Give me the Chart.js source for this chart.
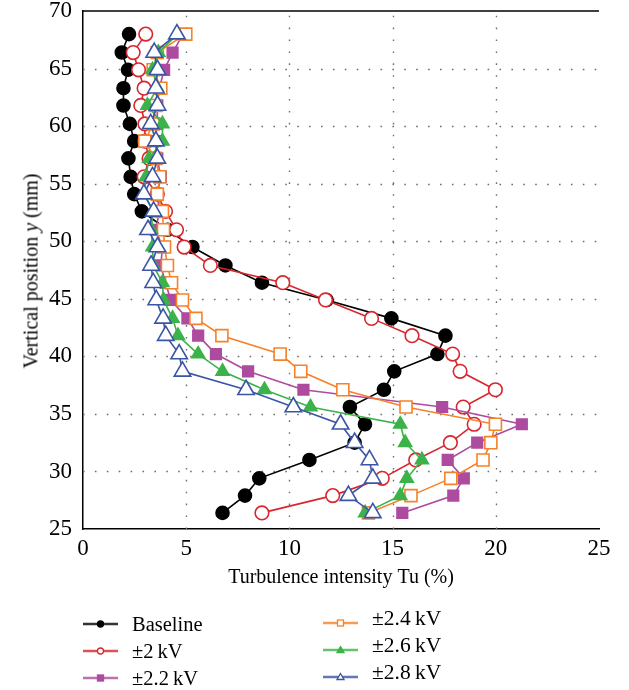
<!DOCTYPE html>
<html>
<head>
<meta charset="utf-8">
<script src="https://cdn.jsdelivr.net/npm/chart.js@4/dist/chart.umd.min.js"></script>
<style>
  html, body { margin: 0; padding: 0; background: #fff; }
  #wrap { position: relative; width: 629px; height: 690px; }
  #c { position: absolute; left: 0; top: 0; }
  .ytitle { position: absolute; left: 31px; top: 271px; transform: translate(-50%, -50%) rotate(-90deg);
            font-family: "Liberation Serif", serif; font-size: 20px; white-space: nowrap; color: #000; }
  .leg { position: absolute; font-family: "Liberation Serif", serif; font-size: 20.5px; color: #000; white-space: nowrap; }
  .leg svg { position: absolute; left: 0; top: 0; overflow: visible; }
  .leg span { position: absolute; white-space: nowrap; }
</style>
</head>
<body>
<div id="wrap">
  <canvas id="c" width="629" height="690"></canvas>
  <div class="ytitle">Vertical position <i>y</i> (mm)</div>
  <div id="legend"></div>
</div>
<script>
// ---- data ----
const yPositions = [68.0, 66.4, 64.9, 63.3, 61.8, 60.2, 58.7, 57.2, 55.6, 54.1, 52.6, 51.0, 49.5, 47.9,
                    46.4, 44.9, 43.3, 41.8, 40.2, 38.7, 37.1, 35.6, 34.1, 32.5, 31.0, 29.4, 27.9, 26.4];
const seriesNames = ["Baseline", "±2 kV", "±2.2 kV", "±2.4 kV", "±2.6 kV", "±2.8 kV"];
const baseline = [2.23, 1.88, 2.18, 1.96, 1.96, 2.27, 2.48, 2.20, 2.31, 2.48, 2.85, 4.10, 5.30, 6.90,
                  8.67, 11.80, 14.94, 17.56, 17.17, 15.08, 14.58, 12.93, 13.66, 13.16, 10.97, 8.54, 7.85, 6.76];
const kv20 = [3.04, 2.43, 2.69, 2.96, 2.80, 3.00, 3.00, 3.20, 2.96, 3.60, 4.00, 4.53, 4.90, 6.17,
              9.68, 11.75, 13.98, 15.94, 17.91, 18.27, 19.98, 18.42, 18.95, 17.80, 16.12, 14.50, 12.10, 8.67];
const kv22 = [4.85, 4.34, 3.93, 3.70, 3.60, 3.60, 3.50, 3.60, 3.77, 3.60, 3.70, 3.53, 3.85, 3.77,
              4.00, 4.25, 5.06, 5.58, 6.44, 8.00, 10.68, 17.40, 21.26, 19.10, 17.67, 18.45, 17.94, 15.47];
const kv24 = [4.98, 3.60, 3.40, 3.77, 3.50, 3.40, 2.99, 3.50, 3.72, 3.60, 3.85, 3.90, 3.95, 4.09,
              4.29, 4.82, 5.47, 6.73, 9.55, 10.55, 12.59, 15.65, 19.98, 19.76, 19.38, 17.82, 15.89, 13.83];
const kv26 = [4.60, 3.65, 3.37, 3.60, 3.12, 3.85, 3.85, 3.20, 3.05, 2.96, 3.40, 3.30, 3.37, 3.40,
              3.85, 3.90, 4.34, 4.60, 5.58, 6.76, 8.79, 11.02, 15.37, 15.61, 16.42, 15.69, 15.37, 13.67];
const kv28 = [4.55, 3.45, 3.61, 3.53, 3.61, 3.28, 3.53, 3.60, 3.37, 2.95, 3.42, 3.15, 3.61, 3.30,
              3.40, 3.55, 3.88, 4.01, 4.66, 4.82, 7.90, 10.19, 12.48, 13.16, 13.88, 14.04, 12.86, 14.04];
const xTicks = [0, 5, 10, 15, 20, 25];
const yTicks = [25, 30, 35, 40, 45, 50, 55, 60, 65, 70];

// ---- styles ----
const styles = [
  {color: '#000000', fill: '#000000', style: 'circle',   r: 6.5, order: 6},
  {color: '#d8262e', fill: '#ffffff', style: 'circle',   r: 6.8, order: 5},
  {color: '#ad4b9f', fill: '#ad4b9f', style: 'rect',     r: 7.5, order: 4},
  {color: '#f5822a', fill: '#ffffff', style: 'rect',     r: 8.5, order: 3},
  {color: '#3bb34a', fill: '#3bb34a', style: 'triangle', r: 7.5, order: 2},
  {color: '#3a55a5', fill: '#ffffff', style: 'triangle', r: 9.5, order: 1}
];
const allSeries = [baseline, kv20, kv22, kv24, kv26, kv28];

const datasets = allSeries.map((vals, i) => ({
  label: seriesNames[i],
  data: vals.map((v, k) => ({x: v, y: yPositions[k]})),
  showLine: true,
  borderColor: styles[i].color,
  borderWidth: 1.6,
  pointStyle: styles[i].style,
  pointRadius: styles[i].r,
  pointBackgroundColor: styles[i].fill,
  pointBorderColor: styles[i].color,
  pointBorderWidth: 1.6,
  order: styles[i].order,
  tension: 0
}));

const FONT = "'Liberation Serif', serif";

// dotted grid + top frame line, positioned through the chart's scales
const gridAndFrame = {
  id: 'gridAndFrame',
  beforeDatasetsDraw(chart) {
    const {ctx, chartArea: a, scales: {x, y}} = chart;
    ctx.save();
    ctx.strokeStyle = '#6e6e6e';
    ctx.lineWidth = 1.4;
    ctx.setLineDash([1.6, 10.3]);
    xTicks.slice(1, -1).forEach(v => {
      const px = Math.round(x.getPixelForValue(v)) + 0.5;
      ctx.beginPath(); ctx.moveTo(px, a.bottom); ctx.lineTo(px, a.top); ctx.stroke();
    });
    yTicks.slice(1, -1).forEach(v => {
      const py = Math.round(y.getPixelForValue(v)) + 0.5;
      ctx.beginPath(); ctx.moveTo(a.left, py); ctx.lineTo(a.right, py); ctx.stroke();
    });
    ctx.restore();
  },
  afterDraw(chart) {
    const {ctx, chartArea: a} = chart;
    ctx.save();
    ctx.strokeStyle = '#000';
    ctx.lineWidth = 1.5;
    ctx.beginPath();
    ctx.moveTo(a.left, a.top);
    ctx.lineTo(a.right, a.top);
    ctx.stroke();
    ctx.restore();
  }
};

new Chart(document.getElementById('c'), {
  type: 'scatter',
  data: {datasets},
  options: {
    responsive: false,
    animation: false,
    events: [],
    layout: {padding: {left: 0, right: 30, top: 9, bottom: 91}},
    plugins: {legend: {display: false}, tooltip: {enabled: false}},
    scales: {
      x: {
        type: 'linear', min: 0, max: 25,
        afterBuildTicks: (s) => { s.ticks = xTicks.map(v => ({value: v})); },
        afterFit: (s) => { s.height = 70; s.paddingLeft = 0; s.paddingRight = 0; },
        ticks: {font: {family: FONT, size: 23}, color: '#000', padding: 6, maxRotation: 0},
        grid: {display: false, drawTicks: false},
        border: {display: true, color: '#000', width: 1.5},
        title: {display: true, text: 'Turbulence intensity Tu (%)', font: {family: FONT, size: 20}, color: '#000', padding: {top: 0, bottom: 9}}
      },
      y: {
        type: 'linear', min: 25, max: 70,
        afterBuildTicks: (s) => { s.ticks = yTicks.map(v => ({value: v})); },
        afterFit: (s) => { s.width = 83; s.paddingTop = 0; s.paddingBottom = 0; },
        ticks: {font: {family: FONT, size: 23}, color: '#000', padding: 11},
        grid: {display: false, drawTicks: false},
        border: {display: true, color: '#000', width: 1.5}
      }
    }
  },
  plugins: [gridAndFrame]
});

// ---- HTML legend ----
const legendPos = [
  {x: 83, y: 624, ty: 624}, {x: 83, y: 651, ty: 651}, {x: 83, y: 678, ty: 678},
  {x: 323, y: 623, ty: 618}, {x: 323, y: 650, ty: 645}, {x: 323, y: 677, ty: 672}
];
function markerSvg(i) {
  const s = styles[i];
  const cx = 17.5, cy = 0;
  let m = '';
  if (s.style === 'circle') m = `<circle cx="${cx}" cy="${cy}" r="3" fill="${s.fill}" stroke="${s.color}" stroke-width="1.3"/>`;
  else if (s.style === 'rect') m = `<rect x="${cx - 3}" y="${cy - 3}" width="6" height="6" fill="${s.fill}" stroke="${s.color}" stroke-width="1.3"/>`;
  else m = `<polygon points="${cx},${cy - 3.5} ${cx + 3.5},${cy + 2.5} ${cx - 3.5},${cy + 2.5}" fill="${s.fill}" stroke="${s.color}" stroke-width="1.3"/>`;
  return `<svg width="35" height="1"><line x1="0" y1="0" x2="35" y2="0" stroke="${s.color}" stroke-width="2.4" opacity="0.8"/>${m}</svg>`;
}
const legend = document.getElementById('legend');
seriesNames.forEach((name, i) => {
  const p = legendPos[i];
  const d = document.createElement('div');
  d.className = 'leg';
  d.style.left = p.x + 'px';
  d.style.top = p.y + 'px';
  const fs = i >= 3 ? 'font-size:21.5px;' : '';
  d.innerHTML = markerSvg(i) + `<span style="left:49px; top:${p.ty - p.y}px; transform: translateY(-50%);${fs}">${name.replace(' ', '\u2009')}</span>`;
  legend.appendChild(d);
});
</script>
</body>
</html>
